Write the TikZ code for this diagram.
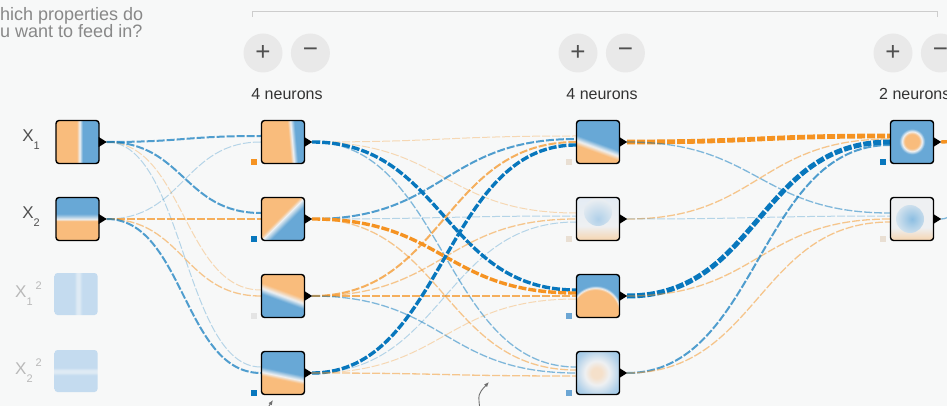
\documentclass[tikz,border=0pt]{standalone}
\usepackage{fontspec}
\setmainfont{Liberation Sans}
\usetikzlibrary{calc,positioning,arrows.meta}

\definecolor{bg1}{RGB}{247,248,248}
\definecolor{blue1}{RGB}{8,119,189}
\definecolor{orange1}{RGB}{245,147,34}
\definecolor{hblue}{RGB}{104,168,214}
\definecolor{horange}{RGB}{249,188,124}
\definecolor{hwhite}{RGB}{238,240,242}
\definecolor{fblue}{RGB}{196,219,239}
\definecolor{fwhite}{RGB}{222,234,244}
\definecolor{lblue}{RGB}{140,190,226}
\definecolor{lblue2}{RGB}{176,208,233}
\definecolor{lblue3}{RGB}{228,236,244}
\definecolor{lorange}{RGB}{246,212,174}
\definecolor{lorange2}{RGB}{245,224,202}
\definecolor{beige1}{RGB}{233,223,211}
\definecolor{bblue}{RGB}{108,166,212}
\definecolor{grey1}{RGB}{228,228,228}
\definecolor{btn1}{RGB}{233,233,233}
\definecolor{txt1}{RGB}{51,51,51}
\definecolor{txt2}{RGB}{136,136,136}
\definecolor{txt3}{RGB}{185,185,185}
\definecolor{txtx}{RGB}{80,80,80}
\definecolor{line1}{RGB}{205,205,205}
\definecolor{note1}{RGB}{110,110,110}

% heat maps of the inputs and neurons
\pgfdeclarehorizontalshading{shxa}{100bp}{color(0bp)=(horange); color(49bp)=(horange); color(52.5bp)=(hwhite); color(56bp)=(hblue); color(100bp)=(hblue)}
\pgfdeclareverticalshading{shxb}{100bp}{color(0bp)=(horange); color(48bp)=(horange); color(49.5bp)=(hwhite); color(56bp)=(hblue); color(100bp)=(hblue)}
\pgfdeclarehorizontalshading{shxc}{100bp}{color(0bp)=(fblue); color(48bp)=(fblue); color(51bp)=(fwhite); color(54bp)=(fwhite); color(57bp)=(fblue); color(100bp)=(fblue)}
\pgfdeclareverticalshading{shxd}{100bp}{color(0bp)=(fblue); color(45bp)=(fblue); color(48bp)=(fwhite); color(51bp)=(fwhite); color(54bp)=(fblue); color(100bp)=(fblue)}
\pgfdeclarehorizontalshading{sha}{100bp}{color(0bp)=(horange); color(57bp)=(horange); color(60.5bp)=(hwhite); color(65bp)=(hblue); color(100bp)=(hblue)}
\pgfdeclarehorizontalshading{shb}{100bp}{color(0bp)=(horange); color(46bp)=(horange); color(50bp)=(hwhite); color(57bp)=(hblue); color(100bp)=(hblue)}
\pgfdeclareverticalshading{shc}{100bp}{color(0bp)=(hblue); color(44bp)=(hblue); color(50bp)=(hwhite); color(56bp)=(horange); color(100bp)=(horange)}
\pgfdeclareverticalshading{shd}{100bp}{color(0bp)=(horange); color(42bp)=(horange); color(46bp)=(hwhite); color(52bp)=(hblue); color(100bp)=(hblue)}
\pgfdeclareverticalshading{she}{100bp}{color(0bp)=(horange); color(38bp)=(horange); color(43bp)=(hwhite); color(49bp)=(hblue); color(100bp)=(hblue)}
\pgfdeclareverticalshading{shf}{100bp}{color(0bp)=(lorange); color(25bp)=(lorange); color(42bp)=(hwhite); color(75bp)=(lblue3); color(100bp)=(lblue3)}
\pgfdeclareradialshading{shg}{\pgfpoint{-5.5bp}{-36bp}}{color(0bp)=(horange); color(27bp)=(horange); color(28.5bp)=(hwhite); color(30bp)=(hblue); color(60bp)=(hblue)}
\pgfdeclareradialshading{shh}{\pgfpoint{-2bp}{0bp}}{color(0bp)=(lorange2); color(6bp)=(lorange2); color(14bp)=(hwhite); color(27bp)=(lblue2); color(40bp)=(lblue)}
\pgfdeclareradialshading{shi}{\pgfpoint{0bp}{1bp}}{color(0bp)=(horange); color(8.5bp)=(horange); color(11.5bp)=(hwhite); color(15bp)=(hblue); color(40bp)=(hblue)}
\pgfdeclareverticalshading{shj}{100bp}{color(0bp)=(lorange); color(25bp)=(lorange); color(40bp)=(hwhite); color(100bp)=(hwhite)}

\pgfdeclarelayer{bg}
\pgfdeclarelayer{links}
\pgfsetlayers{bg,links,main}

% one weight: from the output tip of #1 to the left side of #2
\newcommand{\nnlink}[4]{%
  \coordinate (ls) at ($(#1.east)+(7,0)$);
  \coordinate (lt) at ($(#2.west)+(0,#3)$);
  \coordinate (lm) at ($(ls)!0.5!(lt)$);
  \draw[#4] (ls) .. controls (lm |- ls) and (lm |- lt) .. (lt);}
\newcommand{\xsub}[1]{\raisebox{-8pt}{\fontsize{11}{11}\selectfont #1}}
\newcommand{\xsup}[1]{\raisebox{8pt}{\fontsize{11}{11}\selectfont #1}}

\tikzset{
  neuron/.style={draw=black, line width=1.4pt, rounded corners=3pt, minimum size=43pt, inner sep=0pt},
  feat/.style={rounded corners=3pt, minimum width=43pt, minimum height=42pt, inner sep=0pt},
  bias/.style={minimum size=6pt, inner sep=0pt},
  spot/.style n args={4}{path picture={\shade[inner color=#4, outer color=hwhite] ($(path picture bounding box.center)+(#1,#2)$) circle (#3);}},
  btn/.style={circle, fill=btn1, minimum size=39pt, inner sep=0pt, text=txtx, font=\fontsize{26}{26}\selectfont},
  lbl/.style={text=txt1, font=\fontsize{16}{16}\selectfont},
  qtext/.style={text=txt2, font=\fontsize{18}{18}\selectfont},
  xlbl/.style={text=txtx, font=\fontsize{17}{17}\selectfont},
  note/.style={draw=note1, line width=0.9pt, -{Latex[length=5pt,width=4pt]}},
  lk/.style={dash pattern=on 8pt off 2pt},
  blu1/.style={lk, draw=blue1, draw opacity=.28, line width=1pt},
  blu2/.style={lk, draw=blue1, draw opacity=.5, line width=1.3pt},
  blu3/.style={lk, draw=blue1, draw opacity=.7, line width=2pt},
  blu4/.style={lk, draw=blue1, line width=3.4pt},
  blu5/.style={lk, draw=blue1, line width=5pt},
  org1/.style={lk, draw=orange1, draw opacity=.32, line width=1pt},
  org2/.style={lk, draw=orange1, draw opacity=.5, line width=1.3pt},
  org3/.style={lk, draw=orange1, draw opacity=.72, line width=2pt},
  org4/.style={lk, draw=orange1, line width=3.4pt},
  org5/.style={lk, draw=orange1, line width=4.8pt}
}

\begin{document}
\begin{tikzpicture}[x=1pt, y=-1pt, every node/.style={inner sep=0pt}]
\useasboundingbox (0,0) rectangle (947,406);
\begin{pgfonlayer}{bg}
\fill[bg1] (0,0) rectangle (947,406);
\end{pgfonlayer}

% question
\node[qtext, anchor=base west] (q1) at (0,21) {hich properties do};
\node[qtext, anchor=base west] (q2) at (0,37.5) {u want to feed in?};

% bracket over the hidden layers
\draw[line1, line width=0.8pt] (252,17) -- (252,11) -- (937,11) -- (937,17);

% add / remove buttons and layer sizes
\foreach \nm/\xa in {a/263, b/578, c/893}{
  \node[btn] (plus\nm) at (\xa,53) {+};
  \node[btn, right=8pt of plus\nm] (minus\nm) {−};
}
\node[lbl, anchor=base] (sizea) at (287,100) {4 neurons};
\node[lbl, anchor=base] (sizeb) at (602,100) {4 neurons};
\node[lbl, anchor=base west] (sizec) at (879,100) {2 neurons};

% INPUTS
\node[xlbl, anchor=base east] (lx1) at (40,142) {X\xsub{1}};
\node[xlbl, anchor=base east] (lx2) at (40,218.5) {X\xsub{2}};
\node[xlbl, text=txt3, anchor=base east] (lx1sq) at (42,297) {X\xsub{1}\hspace{3pt}\xsup{2}};
\node[xlbl, text=txt3, anchor=base east] (lx2sq) at (42,374) {X\xsub{2}\hspace{3pt}\xsup{2}};
\node[neuron, shade, shading=shxa] (x1) at (77.5,142) {};
\node[neuron, shade, shading=shxb] (x2) at (77.5,219) {};
\node[feat, shade, shading=shxc] (x1sq) at (76,294) {};
\node[feat, shade, shading=shxd] (x2sq) at (76,371) {};

% HIDDEN LAYER 1
\node[neuron, shade, shading=sha, shading angle=5] (n11) at (283,142) {};
\node[neuron, shade, shading=shb, shading angle=-45] (n12) at (283,219) {};
\node[neuron, shade, shading=shc, shading angle=-20] (n13) at (283,296) {};
\node[neuron, shade, shading=shd, shading angle=-12] (n14) at (283,373) {};

% HIDDEN LAYER 2
\node[neuron, shade, shading=she, shading angle=-20] (n21) at (598,142) {};
\node[neuron, shade, shading=shf, spot={0}{-7}{14}{lblue2}] (n22) at (598,219) {};
\node[neuron, shade, shading=shg] (n23) at (598,296) {};
\node[neuron, shade, shading=shh] (n24) at (598,373) {};

% HIDDEN LAYER 3
\node[neuron, shade, shading=shi] (n31) at (912,142) {};
\node[neuron, shade, shading=shj, spot={-2}{0}{14}{lblue}] (n32) at (912,219) {};

% output tips
\foreach \nd in {x1,x2,n11,n12,n13,n14,n21,n22,n23,n24,n31,n32}
  \fill ($(\nd.east)+(-1,-5)$) -- ($(\nd.east)+(7,0)$) -- ($(\nd.east)+(-1,5)$) -- cycle;

% biases
\foreach \nd/\col in {n11/orange1, n12/blue1, n13/grey1, n14/blue1, n21/beige1, n22/beige1, n23/bblue, n24/bblue, n31/blue1, n32/beige1}
  \node[bias, fill=\col] (b\nd) at ($(\nd.south west)+(-7,-2)$) {};

% WEIGHTS
\begin{pgfonlayer}{links}
% inputs -> layer 1
\nnlink{x1}{n11}{-6}{blu3}
\nnlink{x1}{n12}{-6}{blu3}
\nnlink{x1}{n13}{-6}{org1}
\nnlink{x1}{n14}{-6}{blu1}
\nnlink{x2}{n11}{0}{blu1}
\nnlink{x2}{n12}{0}{org3}
\nnlink{x2}{n13}{0}{org2}
\nnlink{x2}{n14}{0}{blu3}
% layer 1 -> layer 2
\nnlink{n11}{n21}{-6}{org1}
\nnlink{n11}{n22}{-6}{org1}
\nnlink{n11}{n23}{-6}{blu4}
\nnlink{n11}{n24}{-6}{blu2}
\nnlink{n12}{n21}{-3}{blu3}
\nnlink{n12}{n22}{-3}{blu1}
\nnlink{n12}{n23}{-3}{org4}
\nnlink{n12}{n24}{-3}{org2}
\nnlink{n13}{n21}{0}{org3}
\nnlink{n13}{n22}{0}{org2}
\nnlink{n13}{n23}{0}{org3}
\nnlink{n13}{n24}{0}{blu2}
\nnlink{n14}{n21}{3}{blu4}
\nnlink{n14}{n22}{3}{blu1}
\nnlink{n14}{n23}{3}{org1}
\nnlink{n14}{n24}{3}{org2}
% layer 2 -> layer 3
\nnlink{n21}{n31}{-6}{org5}
\nnlink{n21}{n32}{-6}{blu2}
\nnlink{n22}{n31}{-3}{org2}
\nnlink{n22}{n32}{-3}{blu1}
\nnlink{n23}{n31}{0}{blu5}
\nnlink{n23}{n32}{0}{org2}
\nnlink{n24}{n31}{3}{blu3}
\nnlink{n24}{n32}{3}{org2}
% towards the output
\coordinate (out1) at (962,141);
\coordinate (out2) at (975,190);
\nnlink{n31}{out1}{0}{org4}
\nnlink{n32}{out2}{0}{blu2}
\end{pgfonlayer}

% pointers from below
\coordinate (ar1s) at (265,412);
\coordinate (ar1t) at (273,400);
\draw[note] (ar1s) -- (ar1t);
\coordinate (ar2s) at (480,410);
\coordinate (ar2t) at (489,382);
\draw[note] (ar2s) .. controls (478,394) .. (ar2t);

\end{tikzpicture}
\end{document}
